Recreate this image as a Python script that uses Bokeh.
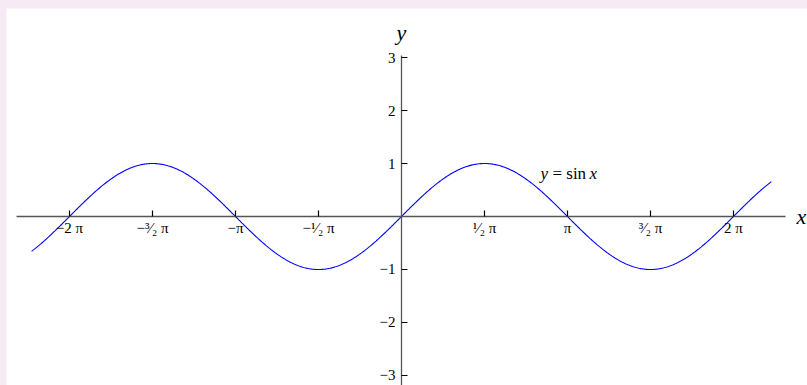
import numpy as np
from bokeh.plotting import figure
from bokeh.models import FixedTicker, Label, Range1d
from bokeh.embed import file_html
from bokeh.resources import INLINE

# ---- data ----
x_start, x_end = -7.0, 7.0
x_tick_halfpi_multiples = [-4, -3, -2, -1, 1, 2, 3, 4]
x_tick_labels = ["−2 π", "−³⁄₂ π", "−π", "−¹⁄₂ π", "¹⁄₂ π", "π", "³⁄₂ π", "2 π"]
y_tick_values = [-3, -2, -1, 1, 2, 3]
y_tick_labels = ["−3", "−2", "−1", "1", "2", "3"]
axis_x_bounds = (-7.28, 7.27)
axis_y_bounds = (-3.19, 3.04)
curve_label_pos = (2.63, 0.81)

x = np.linspace(x_start, x_end, 800)
y = np.sin(x)

x_ticks = [k * np.pi / 2 for k in x_tick_halfpi_multiples]

FONT = "Liberation Serif"

p = figure(width=801, height=377, output_backend="svg", toolbar_location=None,
           x_range=Range1d(-7.475, 7.684), y_range=Range1d(-3.189, 3.925),
           min_border=0)
p.outline_line_color = None
p.xgrid.visible = False
p.ygrid.visible = False
p.background_fill_color = "white"
p.border_fill_color = "white"

p.line(x, y, line_color="#0000ff", line_width=1.1)

for ax in (p.xaxis[0], p.yaxis[0]):
    ax.fixed_location = 0
    ax.axis_line_color = "#555555"
    ax.axis_line_width = 1.3
    ax.major_tick_in = 6
    ax.major_tick_out = 0
    ax.major_tick_line_color = "black"
    ax.major_tick_line_width = 1.2
    ax.minor_tick_line_color = None
    ax.major_label_text_font = FONT
    ax.major_label_text_font_size = "15px"
    ax.major_label_text_color = "black"

p.xaxis[0].bounds = axis_x_bounds
p.yaxis[0].bounds = axis_y_bounds
p.xaxis[0].ticker = FixedTicker(ticks=x_ticks)
p.xaxis[0].major_label_overrides = {t: l for t, l in zip(x_ticks, x_tick_labels)}
p.xaxis[0].major_label_standoff = 3
p.yaxis[0].ticker = FixedTicker(ticks=y_tick_values)
p.yaxis[0].major_label_overrides = {t: l for t, l in zip(y_tick_values, y_tick_labels)}
p.yaxis[0].major_label_standoff = 6

p.add_layout(Label(x=axis_x_bounds[1], y=0, x_offset=11, text="x", text_font=FONT,
                   text_font_style="italic", text_font_size="22px", text_color="black",
                   text_baseline="middle", text_align="left"))
p.add_layout(Label(x=0, y=axis_y_bounds[1], y_offset=10, text="y", text_font=FONT,
                   text_font_style="italic", text_font_size="22px", text_color="black",
                   text_baseline="bottom", text_align="center"))

cx, cy = curve_label_pos
p.add_layout(Label(x=cx, y=cy, text="y", text_font=FONT, text_font_style="italic",
                   text_font_size="17px", text_color="black",
                   text_baseline="middle", text_align="left"))
p.add_layout(Label(x=cx, y=cy, x_offset=12, text="= sin", text_font=FONT,
                   text_font_size="17px", text_color="black",
                   text_baseline="middle", text_align="left"))
p.add_layout(Label(x=cx, y=cy, x_offset=49, text="x", text_font=FONT,
                   text_font_style="italic", text_font_size="17px", text_color="black",
                   text_baseline="middle", text_align="left"))

html = file_html(p, INLINE)
html = html.replace("</head>",
                    "<style>html,body{background:#f6ebf5;} body{padding:8px 0 0 6px !important;}</style></head>", 1)
open("out.html", "w").write(html)
